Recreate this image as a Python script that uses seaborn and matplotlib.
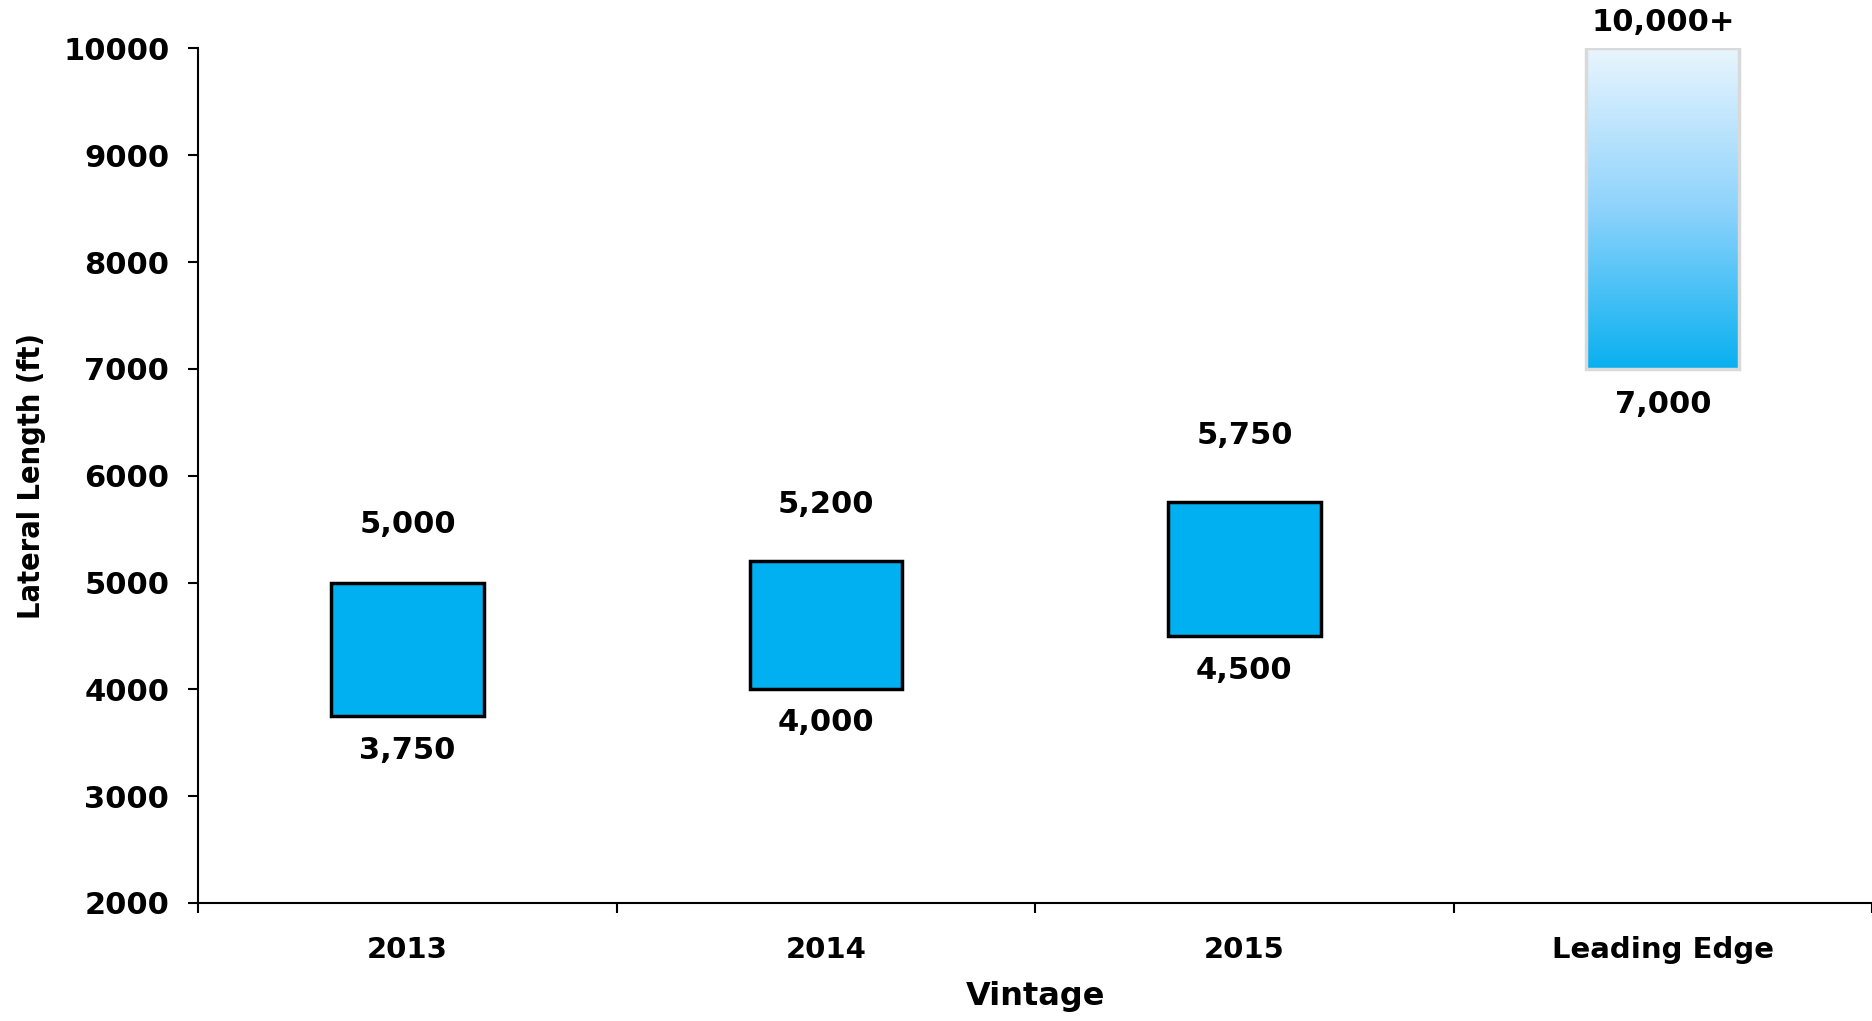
import numpy as np
import pandas as pd
import matplotlib
matplotlib.use("Agg")
import matplotlib.pyplot as plt
from matplotlib.colors import LinearSegmentedColormap
import seaborn as sns

# ---- data ----
categories = ["2013", "2014", "2015", "Leading Edge"]
low_values = [3750, 4000, 4500, 7000]
high_values = [5000, 5200, 5750, 10000]
high_labels = ["5,000", "5,200", "5,750", "10,000+"]
low_labels = ["3,750", "4,000", "4,500", "7,000"]
y_ticks = [2000, 3000, 4000, 5000, 6000, 7000, 8000, 9000, 10000]

df = pd.DataFrame({
    "Vintage": categories,
    "low": low_values,
    "high": high_values,
})
df["span"] = df["high"] - df["low"]

sns.set_theme(style="white")
plt.rcParams["font.family"] = ["DejaVu Sans"]
plt.rcParams["text.color"] = "black"
plt.rcParams["axes.labelcolor"] = "black"
plt.rcParams["xtick.color"] = "black"
plt.rcParams["ytick.color"] = "black"

fig = plt.figure(figsize=(18.72, 10.21), dpi=100)
ax = fig.add_axes([0.106, 0.1156, 0.894, 0.837])

sns.barplot(data=df, x="Vintage", y="span", order=categories, bottom=df["low"].values,
            color="#00B0F0", saturation=1, edgecolor="black", linewidth=2.5,
            width=0.365, ax=ax)

# gradient "leading edge" bar
patches = ax.patches
lead = patches[3]
lead.set_facecolor("none")
lead.set_edgecolor("#D9D9D9")
lead.set_linewidth(2.5)
lead.set_zorder(3)
cmap = LinearSegmentedColormap.from_list("grad", ["#08B0F0", "#8ED3FC", "#E9F5FE"])
grad = np.linspace(0, 1, 256).reshape(-1, 1)
x0, y0 = lead.get_x(), lead.get_y()
w, h = lead.get_width(), lead.get_height()
im = ax.imshow(grad, extent=[x0, x0 + w, y0, y0 + h], origin="lower",
               cmap=cmap, aspect="auto", zorder=2)
im.set_clip_path(lead)

ax.set_xlim(-0.5, 3.5)
ax.set_ylim(2000, 10000)

# labels
top_offsets = [42, 41, 48, 19]
bot_offsets = [25, 24, 25, 26]
for i in range(len(categories)):
    ax.annotate(high_labels[i], (i, high_values[i]), xytext=(0, top_offsets[i]),
                textcoords="offset points", ha="center", va="center",
                fontsize=22, fontweight="bold", color="black")
    ax.annotate(low_labels[i], (i, low_values[i]), xytext=(0, -bot_offsets[i]),
                textcoords="offset points", ha="center", va="center",
                fontsize=22, fontweight="bold", color="black")

# y axis
ax.set_yticks(y_ticks)
ax.set_yticklabels([str(v) for v in y_ticks], fontsize=22, fontweight="bold")
ax.tick_params(axis="y", which="major", direction="out", length=7, width=1.5,
               color="black", labelcolor="black", pad=14, left=True)

# x axis: ticks at boundaries, labels at centers
ax.set_xticks(np.arange(-0.5, 4.0, 1.0))
ax.set_xticklabels([])
ax.set_xticks(np.arange(len(categories)), minor=True)
ax.set_xticklabels(categories, minor=True, fontsize=21, fontweight="bold")
ax.tick_params(axis="x", which="major", direction="out", length=7, width=1.5,
               color="black", bottom=True)
ax.tick_params(axis="x", which="minor", length=0, pad=24, bottom=True,
               labelcolor="black")

ax.set_xlabel("Vintage", fontsize=23, fontweight="bold", labelpad=12, color="black")
ax.set_ylabel("Lateral Length (ft)", fontsize=22, fontweight="bold",
              fontstretch="condensed", labelpad=12, color="black")

for s in ["top", "right"]:
    ax.spines[s].set_visible(False)
for s in ["left", "bottom"]:
    ax.spines[s].set_color("black")
    ax.spines[s].set_linewidth(1.5)
ax.grid(False)

fig.savefig("out.png", dpi=100)
